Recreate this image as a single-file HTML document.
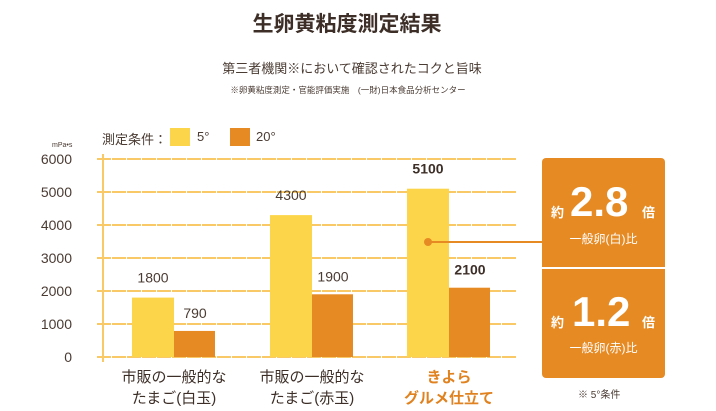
<!DOCTYPE html>
<html><head><meta charset="utf-8"><style>
body{margin:0;width:716px;height:411px;background:#fff;overflow:hidden;font-family:"Liberation Sans","Noto Sans CJK JP",sans-serif;color:#4a3b33}
.t{position:absolute;white-space:nowrap}
</style></head><body>
<div class="t" style="left:0;width:694px;text-align:center;top:8px;font-size:21px;font-weight:bold;color:#3d2f28">生卵黄粘度測定結果</div>
<div class="t" style="left:0;width:704px;text-align:center;top:58px;font-size:13px">第三者機関※において確認されたコクと旨味</div>
<div class="t" style="left:0;width:696px;text-align:center;top:84px;font-size:8.5px">※卵黄粘度測定・官能評価実施　(一財)日本食品分析センター</div>
<svg id="c" width="716" height="411" style="position:absolute;left:0;top:0"></svg>
<script>
const categories=[["市販の一般的な","たまご(白玉)"],["市販の一般的な","たまご(赤玉)"],["きよら","グルメ仕立て"]];
const s5=[1800,4300,5100];
const s20=[790,1900,2100];
const ticks=[0,1000,2000,3000,4000,5000,6000];
const svg=document.getElementById('c');
const NS='http://www.w3.org/2000/svg';
function y(v){return 357-v*198/6000;}
const gx=[132,270,407];
function mk(t,a,name,txt){const e=document.createElementNS(NS,t);for(const k in a)e.setAttribute(k,a[k]);


if(txt!=null)e.textContent=txt;svg.appendChild(e);return e;}
ticks.forEach(v=>{
mk('line',{x1:97,x2:516,y1:y(v),y2:y(v),stroke:'#f9c968','stroke-width':2,'stroke-dasharray':'14 1'},'gridline');
mk('text',{x:72,y:y(v)+5,'text-anchor':'end','font-size':14,fill:'#4a3b33'},'y-tick-label',v);
});
mk('line',{x1:103,x2:103,y1:154,y2:362,stroke:'#f9c968','stroke-width':2},'y-axis');
mk('text',{x:52,y:147,'font-size':7,fill:'#4a3b33'},'y-axis-unit','mPa•s');
s5.forEach((v,i)=>{
const bold=i==2;
mk('rect',{x:gx[i],y:y(v),width:42,height:357-y(v),fill:'#fdd54a'},'bar-5c');
mk('rect',{x:gx[i]+42,y:y(s20[i]),width:41,height:357-y(s20[i]),fill:'#e68a23'},'bar-20c');
mk('text',{x:gx[i]+21,y:y(v)-15,'text-anchor':'middle','font-size':14,'font-weight':bold?'bold':'normal',fill:bold?'#3d2f28':'#4a3b33'},'value-label-5c',v);
mk('text',{x:gx[i]+63,y:y(s20[i])-13,'text-anchor':'middle','font-size':14,'font-weight':bold?'bold':'normal',fill:bold?'#3d2f28':'#4a3b33'},'value-label-20c',s20[i]);
categories[i].forEach((l,j)=>mk('text',{x:gx[i]+42,y:382+j*21,'text-anchor':'middle','font-size':15,'font-weight':bold?'bold':'normal',fill:bold?'#e0821f':'#3d2f28'},'category-label',l));
});
</script>
<div class="t" style="left:102px;top:129px;font-size:13px">測定条件：</div>
<div style="position:absolute;left:170px;top:128px;width:20px;height:18px;background:#fdd54a"></div>
<div class="t" style="left:197px;top:129px;font-size:13px">5°</div>
<div style="position:absolute;left:230px;top:128px;width:20px;height:18px;background:#e68a23"></div>
<div class="t" style="left:256px;top:129px;font-size:13px">20°</div>
<div style="position:absolute;left:428px;top:241px;width:114px;height:2px;background:#e68a23"></div>
<div style="position:absolute;left:424px;top:238px;width:8px;height:8px;border-radius:50%;background:#e68a23"></div>
<div style="position:absolute;left:542px;top:158px;width:123px;height:109px;background:#e68a23;border-radius:4px 4px 0 0;color:#fff">
<div class="t" style="left:9px;top:44px;font-size:13px;font-weight:bold">約</div>
<div class="t" style="left:28px;top:20px;font-size:42px;font-weight:bold">2.8</div>
<div class="t" style="left:100px;top:44px;font-size:13px;font-weight:bold">倍</div>
<div class="t" style="left:0;width:123px;text-align:center;top:72px;font-size:12px">一般卵(白)比</div></div>
<div style="position:absolute;left:542px;top:269px;width:123px;height:109px;background:#e68a23;border-radius:0 0 4px 4px;color:#fff">
<div class="t" style="left:9px;top:43px;font-size:13px;font-weight:bold">約</div>
<div class="t" style="left:30px;top:19px;font-size:42px;font-weight:bold">1.2</div>
<div class="t" style="left:100px;top:43px;font-size:13px;font-weight:bold">倍</div>
<div class="t" style="left:0;width:123px;text-align:center;top:70px;font-size:12px">一般卵(赤)比</div></div>
<div class="t" style="left:578px;top:386px;font-size:10px">※ 5°条件</div>
</body></html>
